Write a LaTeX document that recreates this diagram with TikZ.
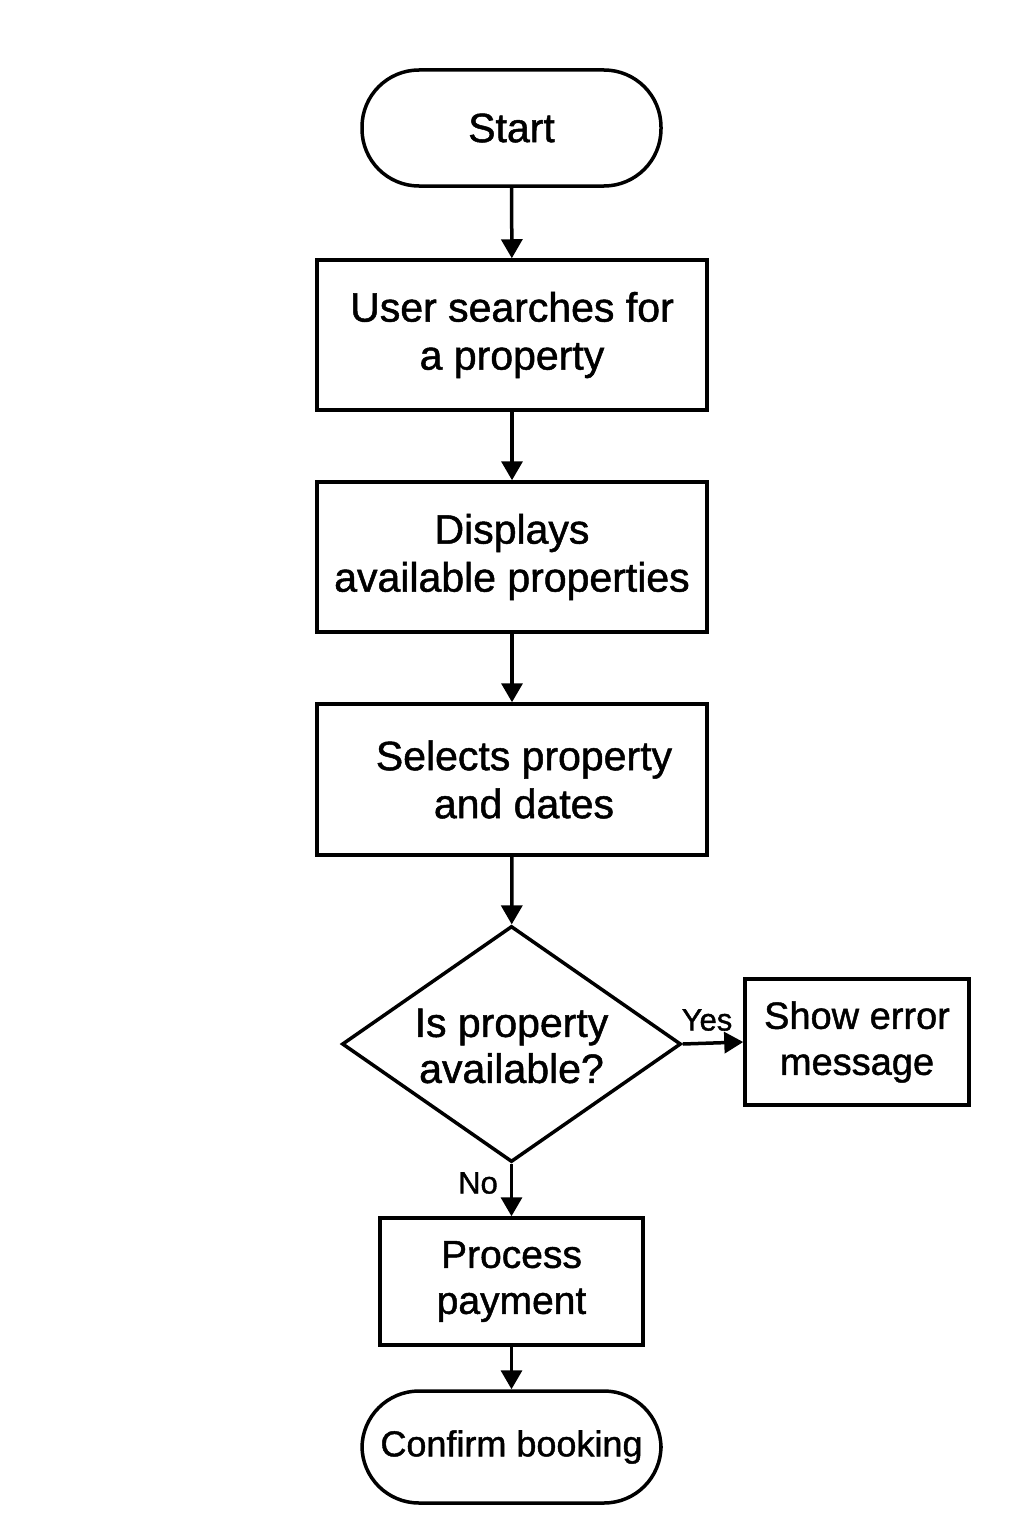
\documentclass[tikz,border=0pt]{standalone}
\usepackage{fontspec}
\setmainfont[FakeBold=1.2]{Liberation Sans}
\usetikzlibrary{shapes.geometric,arrows.meta}
\begin{document}
\begin{tikzpicture}[x=1pt,y=-1pt,
  base/.style={draw=black,line width=3.5pt,align=center,inner sep=0pt,font=\fontsize{41}{48}\selectfont},
  stadium/.style={base,rounded corners=57pt},
  procbox/.style={base},
  decision/.style={base,diamond},
  conn/.style={line width=3.5pt,-{Triangle[length=19pt,width=21pt]}},
  lab/.style={font=\fontsize{31}{34}\selectfont,inner sep=0pt}]
\useasboundingbox (0,0) rectangle (1024,1536);
\fill[white] (0,0) rectangle (1024,1536);
\node[stadium,minimum width=299pt,minimum height=116pt] (start) at (511.5,128) {Start};
\node[procbox,minimum width=390pt,minimum height=150pt] (s1) at (512,335) {User searches for\\a property};
\node[procbox,minimum width=390pt,minimum height=150pt] (s2) at (512,557) {Displays\\available properties};
\node[procbox,minimum width=390pt,minimum height=151pt] (s3) at (512,779.5) {\hspace*{24pt}Selects property\\\hspace*{24pt}and dates};
\node[decision,minimum width=339pt,minimum height=236pt] (dec) at (511.5,1044) {};
\node[font=\fontsize{41}{46}\selectfont,align=center] (dect) at (511.5,1046) {Is property\\available?};
\node[procbox,minimum width=224pt,minimum height=126pt,font=\fontsize{38}{46}\selectfont] (err) at (857,1042) {Show error\\message};
\node[procbox,minimum width=263pt,minimum height=127pt,font=\fontsize{39}{46}\selectfont] (pay) at (511.5,1281.5) {Process\\payment};
\node[stadium,minimum width=299pt,minimum height=112pt,font=\fontsize{36}{40}\selectfont] (conf) at (511.5,1447) {Confirm booking};
\draw[conn] (start) -- (s1);
\draw[conn] (s1) -- (s2);
\draw[conn] (s2) -- (s3);
\draw[conn] (s3) -- (dec);
\draw[conn] (dec.east) -- (err.west);
\draw[conn] (dec.south) -- (pay.north);
\draw[conn] (pay) -- (conf);
\node[lab] (yes) at (707,1020) {Yes};
\node[lab] (no) at (478,1183) {No};
\end{tikzpicture}
\end{document}
